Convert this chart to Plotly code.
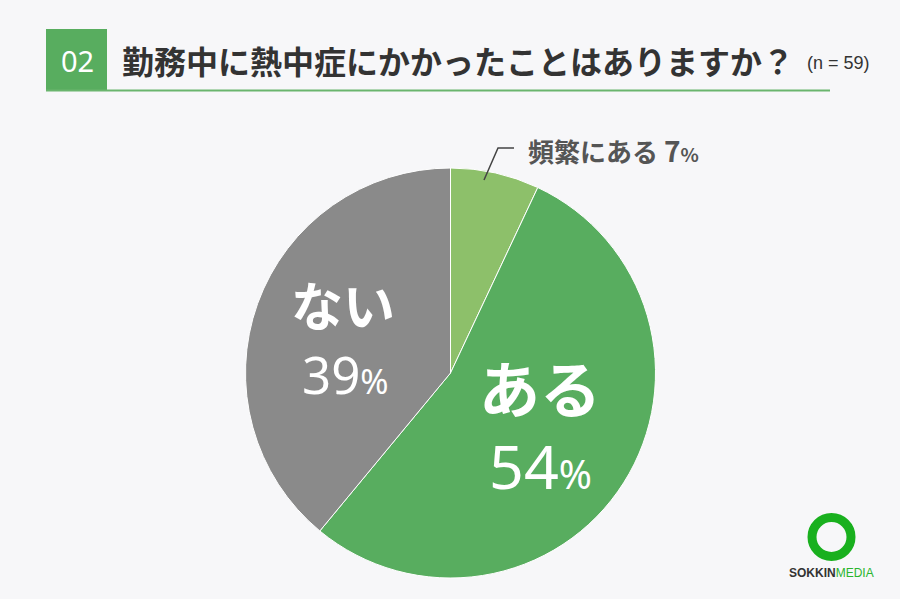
import plotly.graph_objects as go

labels = ["頻繁にある", "ある", "ない"]
values = [7, 54, 39]
colors = ["#8dc06a", "#58ad5f", "#8a8a8a"]
title_text = "勤務中に熱中症にかかったことはありますか？"
n_text = "(n = 59)"
num_text = "02"

W, H = 900, 599
def px(x):
    return x / W
def py(y):
    return 1 - y / H

JP = "Noto Sans CJK JP"
BG = "#f7f7f9"

fig = go.Figure()
cx, cy, r = 450.5, 373, 205
fig.add_trace(go.Pie(
    labels=labels, values=values, sort=False, direction="clockwise", rotation=0,
    marker=dict(colors=colors, line=dict(color="white", width=1)),
    textinfo="none", hoverinfo="label+percent", showlegend=False,
    domain=dict(x=[px(cx - r), px(cx + r)], y=[py(cy + r), py(cy - r)]),
))

shapes = [
    dict(type="rect", xref="paper", yref="paper", x0=px(46), x1=px(107), y0=py(91), y1=py(29),
         fillcolor="#58ad5f", line=dict(width=0), layer="below"),
    dict(type="line", xref="paper", yref="paper", x0=px(46), x1=px(830), y0=py(90.5), y1=py(90.5),
         line=dict(color="#6ab56e", width=2)),
    dict(type="path", xref="paper", yref="paper",
         path=f"M {px(484)} {py(180)} L {px(498)} {py(148)} L {px(514)} {py(148)}",
         line=dict(color="#444", width=1.5)),
    dict(type="circle", xref="paper", yref="paper", x0=px(812), x1=px(851), y0=py(556.5), y1=py(517.5),
         line=dict(color="#19b01e", width=9)),
]

ann = []
def A(x, y, text, size, color, xanchor="center", family=JP, bold=False):
    ann.append(dict(x=px(x), y=py(y), xref="paper", yref="paper", text=text, showarrow=False,
                    xanchor=xanchor, yanchor="middle",
                    font=dict(size=size, color=color, family=family,
                              weight="bold" if bold else "normal")))

A(77, 60, num_text, 29, "white", family="Noto Sans")
A(120, 60, title_text, 32, "#333333", xanchor="left", bold=True)
A(805, 63, n_text, 18, "#333333", xanchor="left", family="Liberation Sans")
A(526, 150, f"{labels[0]} <span style='font-size:28px'>{values[0]}</span><span style='font-size:19px'>%</span>",
  26, "#555555", xanchor="left", bold=True)
A(343, 303, labels[2], 52, "white", bold=True)
A(345, 374, f"{values[2]}<span style='font-size:34px'>%</span>", 51, "white", family="Noto Sans")
A(540, 386, labels[1], 61, "white", bold=True)
A(540, 465, f"{values[1]}<span style='font-size:40px'>%</span>", 61, "white", family="Noto Sans")
A(831, 573, "<b>SOKKIN</b><span style='color:#2ab52e'>MEDIA</span>", 12, "#333333",
  family="Liberation Sans")

fig.update_layout(
    width=W, height=H, margin=dict(l=0, r=0, t=0, b=0),
    paper_bgcolor=BG, plot_bgcolor=BG,
    shapes=shapes, annotations=ann,
)
fig.write_html("out.html", config={"displayModeBar": False},
               post_script="document.body.style.margin='0px';document.body.style.background='#f7f7f9';")
